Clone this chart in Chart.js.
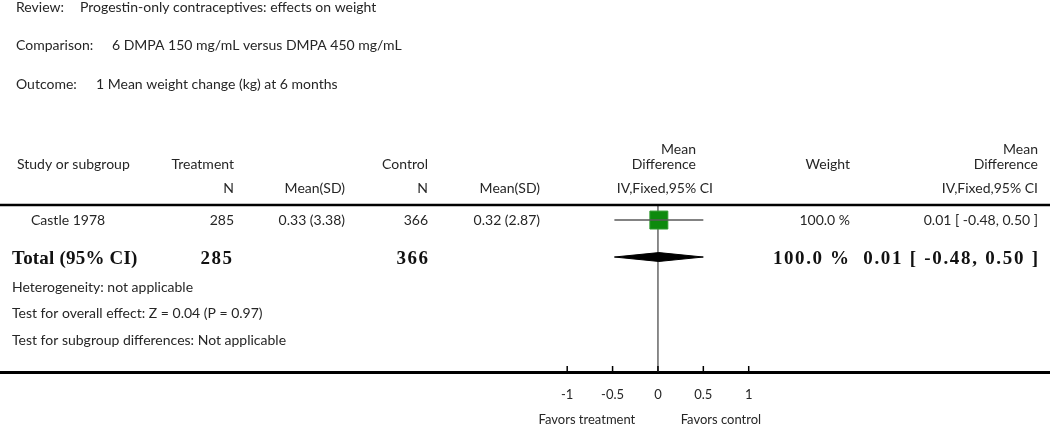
<!DOCTYPE html>
<html><head><meta charset="utf-8">
<script src="https://cdn.jsdelivr.net/npm/chart.js@4.4.1/dist/chart.umd.min.js"></script>
<style>html,body{margin:0;padding:0;background:#fff;overflow:hidden}</style>
</head><body>
<canvas id="c" width="1050" height="425"></canvas>
<script>
// ---- data ----
const reviewTitle = 'Progestin-only contraceptives: effects on weight';
const comparisonTitle = '6 DMPA 150 mg/mL versus DMPA 450 mg/mL';
const outcomeTitle = '1 Mean weight change (kg) at 6 months';
const studies = ['Castle 1978'];
const treatN = [285];
const treatMean = [0.33];
const treatSD = [3.38];
const ctrlN = [366];
const ctrlMean = [0.32];
const ctrlSD = [2.87];
const meanDiff = [0.01];
const ciLow = [-0.48];
const ciHigh = [0.50];
const weights = [100.0];
const totalTreatN = 285;
const totalCtrlN = 366;
const totalWeight = 100.0;
const totalMD = 0.01;
const totalLow = -0.48;
const totalHigh = 0.50;
const xTicks = [-1, -0.5, 0, 0.5, 1];
const xTickLabels = ['-1', '-0.5', '0', '0.5', '1'];
const favorsLeft = 'Favors treatment';
const favorsRight = 'Favors control';
const footnotes = ['Heterogeneity: not applicable',
  'Test for overall effect: Z = 0.04 (P = 0.97)',
  'Test for subgroup differences: Not applicable'];

// ---- styles ----
const SANS = 'Lato, "Open Sans", sans-serif';
const SERIF = '"Liberation Serif", "DejaVu Serif", serif';
const TXT = '#262626';
const F = (s, w) => (w || '') + ' ' + s + 'px ' + SANS;
const FB = s => 'bold ' + s + 'px ' + SERIF;
const fmt2 = v => v.toFixed(2);
const ciText = (m, l, h) => fmt2(m) + ' [ ' + fmt2(l) + ', ' + fmt2(h) + ' ]';

function txt(ctx, s, x, y, align, font, color, spacing) {
  ctx.font = font; ctx.textAlign = align; ctx.textBaseline = 'middle';
  ctx.fillStyle = color || TXT;
  const sp = spacing || 0;
  ctx.letterSpacing = sp + 'px';
  ctx.fillText(s, align === 'right' ? x + sp : x, y);
  ctx.letterSpacing = '0px';
}

const forestPlugin = {
  id: 'forest',
  beforeDatasetsDraw(chart) {
    const {ctx, chartArea, scales: {x}} = chart;
    const x0 = x.getPixelForValue(0);
    ctx.save();
    ctx.strokeStyle = '#666'; ctx.lineWidth = 1.5;
    ctx.beginPath(); ctx.moveTo(x0, chartArea.top); ctx.lineTo(x0, chartArea.bottom); ctx.stroke();
    // upward tick marks
    ctx.strokeStyle = '#000'; ctx.lineWidth = 1.5;
    xTicks.forEach(v => {
      const px = x.getPixelForValue(v);
      ctx.beginPath(); ctx.moveTo(px, chartArea.bottom - 6); ctx.lineTo(px, chartArea.bottom); ctx.stroke();
    });
    ctx.restore();
  },
  afterDraw(chart) {
    const {ctx, scales: {x, y}} = chart;
    ctx.save();
    // titles
    txt(ctx, 'Review:', 16, 7, 'left', F(14));
    txt(ctx, reviewTitle, 80, 7, 'left', F(14));
    txt(ctx, 'Comparison:', 16, 45, 'left', F(14));
    txt(ctx, comparisonTitle, 112, 45, 'left', F(14));
    txt(ctx, 'Outcome:', 16, 84, 'left', F(14));
    txt(ctx, outcomeTitle, 96, 84, 'left', F(14));
    // header
    txt(ctx, 'Mean', 696, 149, 'right', F(14));
    txt(ctx, 'Mean', 1038, 149, 'right', F(14));
    txt(ctx, 'Study or subgroup', 17, 164, 'left', F(14));
    txt(ctx, 'Treatment', 234, 164, 'right', F(14));
    txt(ctx, 'Control', 428, 164, 'right', F(14));
    txt(ctx, 'Difference', 696, 164, 'right', F(14));
    txt(ctx, 'Weight', 850, 164, 'right', F(14));
    txt(ctx, 'Difference', 1038, 164, 'right', F(14));
    txt(ctx, 'N', 234, 188, 'right', F(14));
    txt(ctx, 'Mean(SD)', 345, 188, 'right', F(14));
    txt(ctx, 'N', 428, 188, 'right', F(14));
    txt(ctx, 'Mean(SD)', 540, 188, 'right', F(14));
    txt(ctx, 'IV,Fixed,95% CI', 713, 188, 'right', F(14));
    txt(ctx, 'IV,Fixed,95% CI', 1038, 188, 'right', F(14));
    // header rule
    ctx.strokeStyle = '#000'; ctx.lineWidth = 2.5;
    ctx.beginPath(); ctx.moveTo(0, 205); ctx.lineTo(1050, 205); ctx.stroke();
    // study rows
    studies.forEach((s, i) => {
      const py = y.getPixelForValue(i);
      txt(ctx, s, 31, py, 'left', F(14));
      txt(ctx, String(treatN[i]), 234, py, 'right', F(14));
      txt(ctx, fmt2(treatMean[i]) + ' (' + fmt2(treatSD[i]) + ')', 345, py, 'right', F(14));
      txt(ctx, String(ctrlN[i]), 428, py, 'right', F(14));
      txt(ctx, fmt2(ctrlMean[i]) + ' (' + fmt2(ctrlSD[i]) + ')', 540, py, 'right', F(14));
      txt(ctx, weights[i].toFixed(1) + ' %', 850, py, 'right', F(14));
      txt(ctx, ciText(meanDiff[i], ciLow[i], ciHigh[i]), 1038, py, 'right', F(14));
    });
    // total row
    const ty = y.getPixelForValue(studies.length) + 2;
    txt(ctx, 'Total (95% CI)', 12, ty, 'left', FB(19), '#111', 0.2);
    txt(ctx, String(totalTreatN), 232, ty, 'right', FB(19), '#111', 1.5);
    txt(ctx, String(totalCtrlN), 428, ty, 'right', FB(19), '#111', 1.5);
    txt(ctx, totalWeight.toFixed(1) + ' %', 849, ty, 'right', FB(19), '#111', 1.6);
    txt(ctx, ciText(totalMD, totalLow, totalHigh), 1038, ty, 'right', FB(19), '#111', 1.7);
    // footnotes
    [287, 313, 340].forEach((py, i) => txt(ctx, footnotes[i], 12, py, 'left', F(14)));
    // favours
    txt(ctx, favorsLeft, x.getPixelForValue(-0.25), 420, 'right', F(13));
    txt(ctx, favorsRight, x.getPixelForValue(0.25), 420, 'left', F(13));
    ctx.restore();
  }
};

const DIAMOND_HALF = 0.12;
const SQUARE_R = 12.7;
const datasets = [];
studies.forEach((s, i) => {
  datasets.push({
    label: s + ' CI', order: 0, showLine: true,
    data: [{x: ciLow[i], y: i}, {x: ciHigh[i], y: i}],
    borderColor: '#5a5a5a', borderWidth: 1.6, pointRadius: 0, fill: false
  });
  datasets.push({
    label: s, order: 1,
    data: [{x: meanDiff[i], y: i}],
    pointStyle: 'rect', pointRadius: SQUARE_R * Math.sqrt(weights[i] / 100),
    backgroundColor: '#0d8a0d', borderColor: '#2f9a2f', borderWidth: 1
  });
});
const ty = studies.length;
datasets.push({
  label: 'Total', order: 2, showLine: true,
  data: [{x: totalLow, y: ty}, {x: totalMD, y: ty - DIAMOND_HALF}, {x: totalHigh, y: ty},
         {x: totalMD, y: ty + DIAMOND_HALF}, {x: totalLow, y: ty}],
  borderColor: '#000', backgroundColor: '#000', borderWidth: 1, pointRadius: 0,
  fill: 'shape', tension: 0
});

new Chart(document.getElementById('c'), {
  type: 'scatter',
  data: {datasets},
  options: {
    responsive: false, animation: false, devicePixelRatio: 1,
    layout: {autoPadding: false, padding: {top: 206, left: 0, right: 0, bottom: 0}},
    plugins: {legend: {display: false}, tooltip: {enabled: false}},
    scales: {
      x: {
        type: 'linear', position: 'bottom', min: -7.25, max: 4.32,
        afterBuildTicks: s => { s.ticks = xTicks.map(v => ({value: v})); },
        afterFit: s => { s.height = 53; },
        grid: {display: false, drawTicks: false},
        border: {display: true, color: '#000', width: 3},
        ticks: {autoSkip: false, maxRotation: 0, padding: 15, color: TXT,
          font: {family: SANS, size: 13},
          callback: (v, i) => xTickLabels[i]}
      },
      y: {
        type: 'linear', display: false, reverse: true, min: -0.38, max: 4.11
      }
    }
  },
  plugins: [forestPlugin]
});
</script>
</body></html>
